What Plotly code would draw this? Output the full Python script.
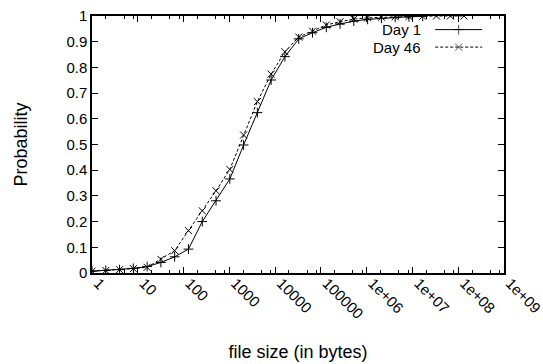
import plotly.graph_objects as go

# file sizes (bytes): powers of two
sizes_day1 = [1, 2, 4, 8, 16, 32, 64, 128, 256, 512, 1024, 2048, 4096, 8192,
              16384, 32768, 65536, 131072, 262144, 524288, 1048576, 2097152,
              4194304, 8388608, 16777216]
prob_day1 = [0.007, 0.010, 0.013, 0.018, 0.025, 0.041, 0.063, 0.093, 0.200,
             0.281, 0.366, 0.498, 0.624, 0.751, 0.842, 0.911, 0.935, 0.956,
             0.969, 0.980, 0.987, 0.991, 0.995, 0.997, 0.999]

sizes_day46 = [1, 2, 4, 8, 16, 32, 64, 128, 256, 512, 1024, 2048, 4096, 8192,
               16384, 32768, 65536, 131072, 262144, 524288, 1048576, 2097152,
               4194304, 8388608, 16777216, 33554432, 67108864, 134217728]
prob_day46 = [0.007, 0.010, 0.013, 0.017, 0.022, 0.053, 0.087, 0.165, 0.242,
              0.320, 0.403, 0.537, 0.667, 0.774, 0.861, 0.918, 0.941, 0.965,
              0.978, 0.988, 0.993, 0.995, 0.997, 0.998, 0.999, 1.0, 1.0, 1.0]

x_tickvals = [1, 10, 100, 1000, 10000, 100000, 1e6, 1e7, 1e8, 1e9]
x_ticktext = ["1", "10", "100", "1000", "10000", "100000", "1e+06", "1e+07", "1e+08", "1e+09"]
x_minor = [m * 10 ** e for e in range(9) for m in (2, 5, 8)]

series_names = ["Day 1", "Day 46"]

FONT = "Liberation Sans, Arial, sans-serif"
FS = 15
fig = go.Figure()

fig.add_trace(go.Scatter(
    x=sizes_day1, y=prob_day1, mode="lines+markers", name=series_names[0],
    line=dict(color="black", width=1),
    marker=dict(symbol="cross-thin", size=7, line=dict(color="black", width=1)),
    showlegend=False))
fig.add_trace(go.Scatter(
    x=sizes_day46, y=prob_day46, mode="lines+markers", name=series_names[1],
    line=dict(color="black", width=1, dash="3px,2px"),
    marker=dict(symbol="x-thin", size=7, line=dict(color="black", width=1)),
    showlegend=False))

# Legend samples (gnuplot style: text then sample on the right), on overlay axes
leg_y = [0.947, 0.879]
leg_styles = [dict(dash="solid", sym="cross-thin"), dict(dash="3px,2px", sym="x-thin")]
for name, ly, st in zip(series_names, leg_y, leg_styles):
    fig.add_trace(go.Scatter(
        x=[0.833, 0.890, 0.947], y=[ly, ly, ly], mode="lines+markers",
        xaxis="x2", yaxis="y2", showlegend=False, hoverinfo="skip",
        line=dict(color="black", width=1, dash=st["dash"]),
        marker=dict(symbol=st["sym"], size=[0, 7, 0], line=dict(color="black", width=1))))
    fig.add_annotation(x=0.803, y=ly, xref="paper", yref="paper", text=name,
                       showarrow=False, xanchor="right", yanchor="middle",
                       font=dict(family=FONT, size=FS, color="black"))

fig.update_layout(
    width=543, height=364,
    margin=dict(l=92, r=39, t=16, b=91, autoexpand=False),
    paper_bgcolor="white", plot_bgcolor="white",
    font=dict(family=FONT, size=FS, color="black"),
    showlegend=False,
    xaxis=dict(
        type="log", range=[0, 9], automargin=False,
        tickmode="array", tickvals=x_tickvals, ticktext=x_ticktext,
        tickangle=45, ticklabelshift=6, ticklabelstandoff=-6,
        ticklabeloverflow="allow",
        ticks="inside", ticklen=6, tickwidth=1, tickcolor="black",
        minor=dict(tickmode="array", tickvals=x_minor, ticks="inside",
                   ticklen=3, tickwidth=1, tickcolor="black", showgrid=False),
        showline=True, linecolor="black", linewidth=1.5, mirror="ticks",
        showgrid=False, zeroline=False,
        title=dict(text="file size (in bytes)", standoff=24),
    ),
    yaxis=dict(
        range=[0, 1], dtick=0.1, tick0=0, automargin=False,
        ticks="inside", ticklen=6, tickwidth=1, tickcolor="black",
        showline=True, linecolor="black", linewidth=1.5, mirror="ticks",
        showgrid=False, zeroline=False,
        title=dict(text="Probability", standoff=34),
    ),
    xaxis2=dict(overlaying="x", range=[0, 1], visible=False, fixedrange=True),
    yaxis2=dict(overlaying="y", range=[0, 1], visible=False, fixedrange=True),
)

fig.write_html("out.html")
